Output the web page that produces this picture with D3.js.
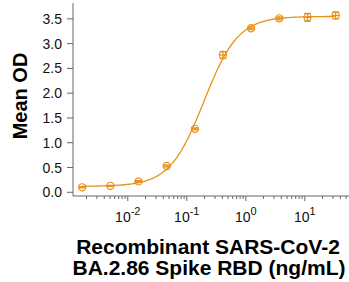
<!DOCTYPE html>
<html>
<head>
<meta charset="utf-8">
<script src="https://cdn.jsdelivr.net/npm/d3@7"></script>
<style>
  body { margin: 0; background: #fff; }
  svg { font-family: "Liberation Sans", Arial, sans-serif; }
  .axis path, .axis line { stroke: #666; }
  .ticklab { font-size: 14px; fill: #111; }
  .title { font-size: 21px; font-weight: bold; fill: #000; }
</style>
</head>
<body>
<svg id="chart" width="349" height="282"></svg>
<script>
// concentrations (ng/mL), 3-fold dilution series
var conc = [0.00169, 0.00508, 0.0152, 0.0457, 0.137, 0.41, 1.23, 3.7, 11.1, 33.3];
// mean OD and error (SD)
var meanOD = [0.10, 0.13, 0.22, 0.53, 1.28, 2.77, 3.31, 3.51, 3.53, 3.57];
var errOD = [0.01, 0.01, 0.02, 0.02, 0.02, 0.07, 0.03, 0.03, 0.08, 0.07];
// 4PL fit: bottom, top, EC50, hill slope
var fitParams = [0.12, 3.55, 0.195, 1.5];
var yTicks = [0, 0.5, 1.0, 1.5, 2.0, 2.5, 3.0, 3.5];
var xMajor = [-2, -1, 0, 1];

var color = '#E8911C';
var svg = d3.select('#chart');

var x = d3.scaleLog().domain([0.00118, 56]).range([73, 349]);
var y = d3.scaleLinear().domain([-0.075, 3.82]).range([196, 3]);

// y axis
var yAxis = svg.append('g').attr('class', 'axis');
yAxis.append('line')
    .attr('x1', 73).attr('x2', 73)
    .attr('y1', y(-0.075)).attr('y2', y(3.82));
yAxis.selectAll('line.tk')
    .data(yTicks)
    .enter()
    .append('line')
    .classed('tk', true)
    .attr('x1', 67).attr('x2', 73)
    .attr('y1', function(d) { return y(d); })
    .attr('y2', function(d) { return y(d); });
yAxis.selectAll('text')
    .data(yTicks)
    .enter()
    .append('text')
    .attr('class', 'ticklab')
    .attr('x', 62)
    .attr('y', function(d) { return y(d) + 5; })
    .attr('text-anchor', 'end')
    .text(function(d) { return d3.format('.1f')(d); });

// x axis
var xAxis = svg.append('g').attr('class', 'axis');
xAxis.append('line')
    .attr('x1', 73).attr('x2', 349)
    .attr('y1', 196).attr('y2', 196);
var minor = [];
for (var e = -3; e <= 1; e++) {
    for (var m = 1; m <= 9; m++) {
        var v = m * Math.pow(10, e);
        if (v >= 0.00118 && v <= 56) minor.push({v: v, major: m === 1});
    }
}
xAxis.selectAll('line.tk')
    .data(minor)
    .enter()
    .append('line')
    .classed('tk', true)
    .attr('x1', function(d) { return x(d.v); })
    .attr('x2', function(d) { return x(d.v); })
    .attr('y1', 196)
    .attr('y2', function(d) { return d.major ? 201 : 199; });
var xl = xAxis.selectAll('text')
    .data(xMajor)
    .enter()
    .append('text')
    .attr('class', 'ticklab')
    .attr('x', function(d) { return x(Math.pow(10, d)); })
    .attr('y', 222)
    .attr('text-anchor', 'middle');
xl.append('tspan').text('10');
xl.append('tspan')
    .attr('dy', -7)
    .style('font-size', '11px')
    .text(function(d) { return d; });

// fitted curve
var fit = function(c) {
    var b = fitParams[0], t = fitParams[1], ec = fitParams[2], h = fitParams[3];
    return b + (t - b) / (1 + Math.pow(ec / c, h));
};
var lx = d3.scaleLinear().domain([0, 200])
    .range([Math.log10(conc[0]), Math.log10(conc[conc.length - 1])]);
var curvePts = d3.range(201).map(function(i) { return Math.pow(10, lx(i)); });
svg.append('path')
    .datum(curvePts)
    .attr('fill', 'none')
    .attr('stroke', color)
    .attr('stroke-width', 1.3)
    .attr('d', d3.line()
        .x(function(d) { return x(d); })
        .y(function(d) { return y(fit(d)); }));

// points with error bars
var pts = svg.append('g')
    .selectAll('g')
    .data(conc.map(function(c, i) { return {c: c, m: meanOD[i], e: errOD[i]}; }))
    .enter()
    .append('g')
    .attr('stroke', color)
    .attr('stroke-width', 1.2)
    .attr('fill', 'none');
pts.append('line')
    .attr('x1', function(d) { return x(d.c); })
    .attr('x2', function(d) { return x(d.c); })
    .attr('y1', function(d) { return y(d.m - d.e); })
    .attr('y2', function(d) { return y(d.m + d.e); });
[-1, 1].forEach(function(s) {
    pts.append('line')
        .attr('x1', function(d) { return x(d.c) - 3.5; })
        .attr('x2', function(d) { return x(d.c) + 3.5; })
        .attr('y1', function(d) { return y(d.m + s * d.e); })
        .attr('y2', function(d) { return y(d.m + s * d.e); });
});
pts.append('circle')
    .attr('cx', function(d) { return x(d.c); })
    .attr('cy', function(d) { return y(d.m); })
    .attr('r', 3.6);
pts.append('line')
    .attr('x1', function(d) { return x(d.c) - 3.6; })
    .attr('x2', function(d) { return x(d.c) + 3.6; })
    .attr('y1', function(d) { return y(d.m); })
    .attr('y2', function(d) { return y(d.m); });

// titles
svg.append('text')
    .attr('class', 'title')
    .attr('transform', 'translate(27,96) rotate(-90)')
    .style('font-size', '20px')
    .attr('text-anchor', 'middle')
    .text('Mean OD');
svg.append('text')
    .attr('class', 'title')
    .attr('x', 208).attr('y', 254)
    .attr('text-anchor', 'middle')
    .text('Recombinant SARS-CoV-2');
svg.append('text')
    .attr('class', 'title')
    .attr('x', 209).attr('y', 275)
    .attr('text-anchor', 'middle')
    .text('BA.2.86 Spike RBD (ng/mL)');
</script>
</body>
</html>
